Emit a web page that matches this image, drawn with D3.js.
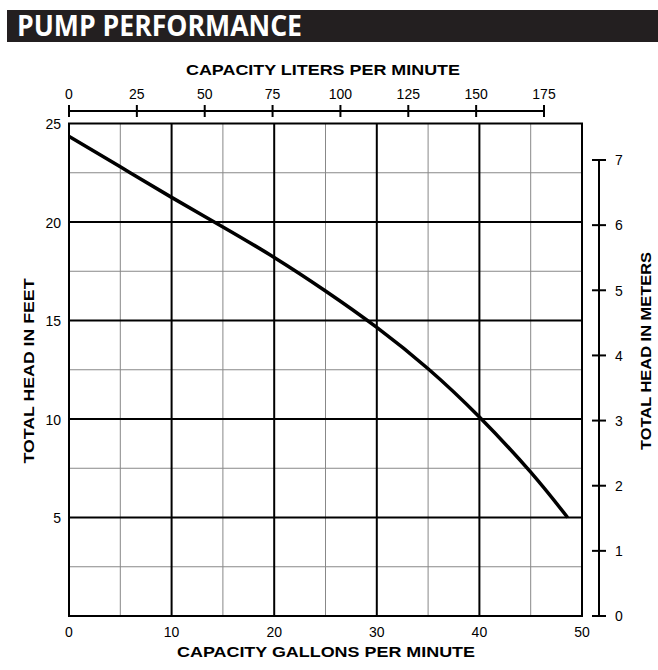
<!DOCTYPE html>
<html><head><meta charset="utf-8">
<script src="https://cdn.jsdelivr.net/npm/d3@7"></script>
<style>html,body{margin:0;padding:0;background:#fff;}svg{display:block;}</style>
</head><body>
<script>
const gpm  = [0, 5, 10, 15, 20, 25, 30, 35, 40, 45, 48.6];
const feet = [24.35, 22.8, 21.25, 19.75, 18.2, 16.5, 14.65, 12.55, 10.1, 7.3, 5.0];
const gpmTicks = [0, 10, 20, 30, 40, 50];
const literTicks = [0, 25, 50, 75, 100, 125, 150, 175];
const feetTicks = [5, 10, 15, 20, 25];
const meterTicks = [0, 1, 2, 3, 4, 5, 6, 7];

const W = 658, H = 670;
const svg = d3.select("body").append("svg").attr("width", W).attr("height", H);
const font = "'Liberation Sans', Arial, Helvetica, sans-serif";

const x = d3.scaleLinear().domain([0, 50]).range([69, 582]);
const y = d3.scaleLinear().domain([0, 25]).range([616, 123.5]);
const xl = d3.scaleLinear().domain([0, 175]).range([69, 544]);
const ym = d3.scaleLinear().domain([0, 7]).range([616, 160]);

// title bar
svg.append("rect").attr("x", 7).attr("y", 10).attr("width", W - 7).attr("height", 32).attr("fill", "#231f20");
svg.append("text").attr("x", 17).attr("y", 36)
  .attr("font-family", "'Open Sans', sans-serif").attr("font-weight", 700).attr("font-size", 29)
  .attr("fill", "#fff").attr("textLength", 285).attr("lengthAdjust", "spacingAndGlyphs")
  .text("PUMP PERFORMANCE");

// grid
const g = svg.append("g");
const minorX = d3.range(5, 50, 10), minorY = d3.range(2.5, 25, 5);
g.selectAll(".mx").data(minorX).join("line")
  .attr("x1", d => x(d)).attr("x2", d => x(d)).attr("y1", y(0)).attr("y2", y(25))
  .attr("stroke", "#888").attr("stroke-width", 1);
g.selectAll(".my").data(minorY).join("line")
  .attr("y1", d => y(d)).attr("y2", d => y(d)).attr("x1", x(0)).attr("x2", x(50))
  .attr("stroke", "#888").attr("stroke-width", 1);
g.selectAll(".Mx").data([10, 20, 30, 40]).join("line")
  .attr("x1", d => x(d)).attr("x2", d => x(d)).attr("y1", y(0)).attr("y2", y(25))
  .attr("stroke", "#000").attr("stroke-width", 2);
g.selectAll(".My").data([5, 10, 15, 20]).join("line")
  .attr("y1", d => y(d)).attr("y2", d => y(d)).attr("x1", x(0)).attr("x2", x(50))
  .attr("stroke", "#000").attr("stroke-width", 2);
g.append("rect").attr("x", x(0)).attr("y", y(25)).attr("width", x(50) - x(0)).attr("height", y(0) - y(25))
  .attr("fill", "none").attr("stroke", "#000").attr("stroke-width", 2);

// curve
const line = d3.line().x((d, i) => x(gpm[i])).y(d => y(d)).curve(d3.curveNatural);
svg.append("path").attr("d", line(feet)).attr("fill", "none").attr("stroke", "#000").attr("stroke-width", 3.5);

// left labels
svg.selectAll(".fl").data(feetTicks).join("text")
  .attr("x", 61).attr("y", d => y(d)).attr("dy", "0.42em").attr("text-anchor", "end")
  .attr("font-family", font).attr("font-size", 14).text(d => d);
// bottom labels
svg.selectAll(".gl").data(gpmTicks).join("text")
  .attr("x", d => x(d)).attr("y", 637).attr("text-anchor", "middle")
  .attr("font-family", font).attr("font-size", 14).text(d => d);

// top liters axis
const topAxis = svg.append("g").attr("transform", "translate(0,111)");
topAxis.append("line").attr("x1", xl(0)).attr("x2", xl(175)).attr("stroke", "#000").attr("stroke-width", 2);
topAxis.selectAll(".tt").data(literTicks).join("line")
  .attr("x1", d => xl(d)).attr("x2", d => xl(d)).attr("y1", -6).attr("y2", 6)
  .attr("stroke", "#000").attr("stroke-width", 2);
topAxis.selectAll(".tl").data(literTicks).join("text")
  .attr("x", d => xl(d)).attr("y", -12).attr("text-anchor", "middle")
  .attr("font-family", font).attr("font-size", 14).text(d => d);

// right meters axis
const rightAxis = svg.append("g").attr("transform", "translate(599,0)");
rightAxis.append("line").attr("y1", ym(0)).attr("y2", ym(7)).attr("stroke", "#000").attr("stroke-width", 2);
rightAxis.selectAll(".rt").data(meterTicks).join("line")
  .attr("x1", -7).attr("x2", 7).attr("y1", d => ym(d)).attr("y2", d => ym(d))
  .attr("stroke", "#000").attr("stroke-width", 2);
rightAxis.selectAll(".rl").data(meterTicks).join("text")
  .attr("x", 16).attr("y", d => ym(d)).attr("dy", "0.38em")
  .attr("font-family", font).attr("font-size", 14).text(d => d);

// axis titles
const bold = (s, len) => s.attr("font-family", font).attr("font-weight", 700).attr("font-size", 15)
  .attr("text-anchor", "middle").attr("textLength", len).attr("lengthAdjust", "spacingAndGlyphs");
svg.append("text").attr("x", 323).attr("y", 75).call(bold, 274).text("CAPACITY LITERS PER MINUTE");
svg.append("text").attr("x", 326).attr("y", 657).call(bold, 298).text("CAPACITY GALLONS PER MINUTE");
svg.append("text").attr("transform", "translate(34,371) rotate(-90)").call(bold, 185).text("TOTAL HEAD IN FEET");
svg.append("text").attr("transform", "translate(651,351) rotate(-90)").call(bold, 198).text("TOTAL HEAD IN METERS");
</script>
</body></html>
